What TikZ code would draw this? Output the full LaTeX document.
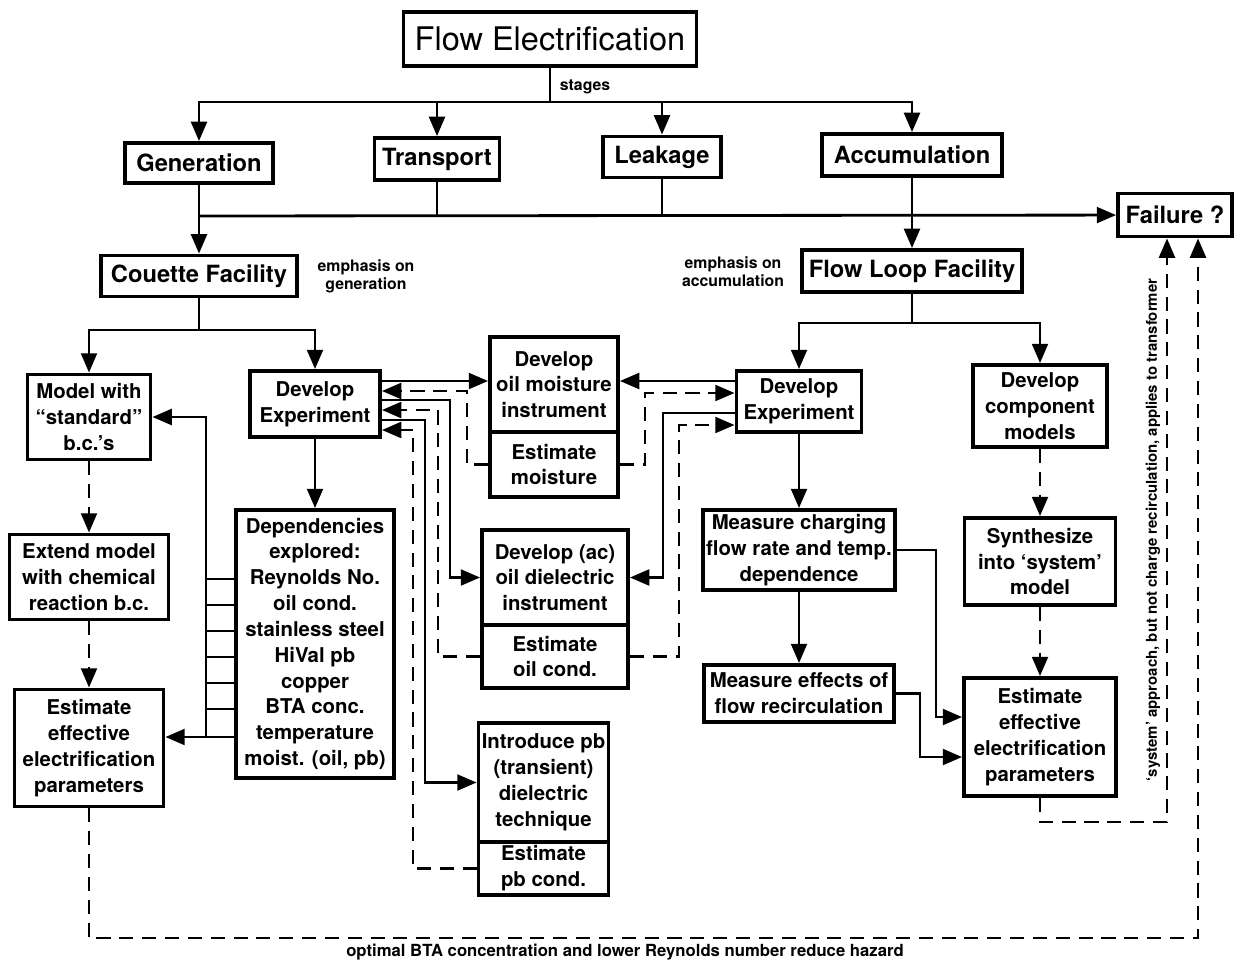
\documentclass[tikz,border=0pt]{standalone}
\usepackage{fontspec}
\setmainfont{TeX Gyre Heros}
\usetikzlibrary{arrows.meta}
\newcommand{\BoxFont}{\fontsize{11.6}{14.7}\selectfont\bfseries}
\newcommand{\StageFont}{\fontsize{13.5}{16}\selectfont\bfseries}
\newcommand{\NoteFont}{\fontsize{9}{10.3}\selectfont\bfseries}

\begin{document}
\begin{tikzpicture}[x=0.02cm, y=-0.02cm,
  box/.style={draw, line width=2.2pt, align=center, inner sep=1pt, font=\BoxFont},
  stagebox/.style={draw, line width=2.2pt, inner sep=2pt, font=\StageFont},
  note/.style={align=center, font=\NoteFont},
  line/.style={line width=1.6pt},
  arr/.style={line width=1.6pt, -{Triangle[length=11pt,width=9pt]}},
  darr/.style={arr, dash pattern=on 8pt off 5pt}]
\useasboundingbox (0,0) rectangle (1236,960);

% top levels
\node[stagebox, minimum width=5.86cm, minimum height=1.08cm,
      font=\fontsize{18.5}{20}\selectfont] (flow) at (550,39) {Flow Electrification};
\node[note] (stg) at (585,87) {stages};
\node[stagebox, minimum width=2.96cm, minimum height=0.80cm] (gen) at (199,163) {Generation};
\node[stagebox, minimum width=2.50cm, minimum height=0.84cm] (trans) at (437,159) {Transport};
\node[stagebox, minimum width=2.36cm, minimum height=0.82cm] (leak) at (662,157) {Leakage};
\node[stagebox, minimum width=3.60cm, minimum height=0.84cm] (accum) at (912,155) {Accumulation};
\node[stagebox, minimum width=2.28cm, minimum height=0.86cm] (fail) at (1175,215) {Failure ?};
\node[stagebox, minimum width=3.92cm, minimum height=0.82cm] (couette) at (199,276) {Couette Facility};
\node[stagebox, minimum width=4.40cm, minimum height=0.84cm] (floop) at (912,271) {Flow Loop Facility};
\node[note] (emgen) at (366,276) {emphasis on\\generation};
\node[note] (emacc) at (733,272) {emphasis on\\accumulation};

% couette branch
\node[box, minimum width=2.46cm, minimum height=1.70cm] (model) at (89,417) {Model with\\``standard''\\b.c.'s};
\node[box, minimum width=3.18cm, minimum height=1.70cm] (extend) at (89,577) {Extend model\\with chemical\\reaction b.c.};
\node[box, minimum width=2.98cm, minimum height=2.34cm] (estL) at (89,748) {Estimate\\effective\\electrification\\parameters};
\node[box, minimum width=2.60cm, minimum height=1.32cm] (devL) at (315,404) {Develop\\Experiment};
\node[box, minimum width=3.16cm, minimum height=5.36cm] (dep) at (315,644)
     {Dependencies\\explored:\\Reynolds No.\\oil cond.\\stainless steel\\HiVal pb\\copper\\BTA conc.\\temperature\\moist. (oil, pb)};

% instruments
\node[box, minimum width=2.56cm, minimum height=1.90cm] (moistdev) at (554,384.5) {Develop\\oil moisture\\instrument};
\node[box, minimum width=2.56cm, minimum height=1.30cm] (moistest) at (554,464.5) {Estimate\\moisture};
\node[box, minimum width=2.92cm, minimum height=1.90cm] (dieldev) at (555,577.5) {Develop (ac)\\oil dielectric\\instrument};
\node[box, minimum width=2.92cm, minimum height=1.26cm] (dielest) at (555,656.5) {Estimate\\oil cond.};
\node[box, minimum width=2.60cm, minimum height=2.38cm] (pbdev) at (543.5,782.5) {Introduce pb\\(transient)\\dielectric\\technique};
\node[box, minimum width=2.60cm, minimum height=1.06cm] (pbest) at (543.5,868.5) {Estimate\\pb cond.};

% flow loop branch
\node[box, minimum width=2.50cm, minimum height=1.22cm] (devR) at (799,401.5) {Develop\\Experiment};
\node[box, minimum width=3.84cm, minimum height=1.60cm] (charge) at (799,550) {Measure charging\\flow rate and temp.\\dependence};
\node[box, minimum width=3.80cm, minimum height=1.14cm] (recirc) at (799,693.5) {Measure effects of\\flow recirculation};
\node[box, minimum width=2.68cm, minimum height=1.64cm] (comp) at (1040,406) {Develop\\component\\models};
\node[box, minimum width=3.02cm, minimum height=1.74cm] (synth) at (1040,561.5) {Synthesize\\into `system'\\model};
\node[box, minimum width=3.04cm, minimum height=2.36cm] (estR) at (1040,737) {Estimate\\effective\\electrification\\parameters};

\node[note, rotate=90, font=\fontsize{8.5}{10}\selectfont\bfseries] (sysnote) at (1153,530)
     {`system' approach, but not charge recirculation, applies to transformer};
\node[note, font=\fontsize{9.5}{11}\selectfont\bfseries] (hazard) at (625,952)
     {optimal BTA concentration and lower Reynolds number reduce hazard};

% stages
\coordinate (sbus) at (550,102);
\draw[line] (flow) -- (sbus);
\draw[arr] (sbus) -| (gen);
\draw[arr] (sbus) -| (trans);
\draw[arr] (sbus) -| (leak);
\draw[arr] (sbus) -| (accum);
\coordinate (fbus) at (199,216);
\draw[arr] (fbus) -- (fail);
\draw[line] (trans) -- (trans |- fbus);
\draw[line] (leak) -- (leak |- fbus);
\draw[arr] (gen) -- (couette);
\draw[arr] (accum) -- (floop);

% couette facility
\coordinate (cbus) at (199,330);
\draw[line] (couette) -- (cbus);
\draw[arr] (cbus) -| (model);
\draw[arr] (cbus) -| (devL);
\draw[darr] (model) -- (extend);
\draw[darr] (extend) -- (estL);
\draw[arr] (devL) -- (dep);
\coordinate (fb1) at (206,417);
\coordinate (fb2) at (206,737);
\draw[arr] (fb2 -| dep.west) -- (fb2 -| estL.east);
\draw[arr] (fb2) -- (fb1) -- (fb1 -| model.east);
\foreach \ty in {579,605,631,657,683,709} {
  \coordinate (tk) at (206,\ty);
  \draw[line] (tk) -- (tk -| dep.west);
}

% left experiment <-> instruments
\coordinate (ca) at (467,381);
\coordinate (cb) at (467,391);
\coordinate (cc) at (450,400);
\coordinate (cd) at (438,410);
\coordinate (ce) at (425,420);
\coordinate (cf) at (413,430);
\draw[arr] (ca -| devL.east) -- (ca -| moistdev.west);
\draw[darr] (moistest.west) -| (cb) -- (cb -| devL.east);
\draw[arr] (cc -| devL.east) -- (cc) |- (dieldev.west);
\draw[darr] (dielest.west) -| (cd) -- (cd -| devL.east);
\draw[arr] (ce -| devL.east) -- (ce) |- (pbdev.west);
\draw[darr] (pbest.west) -| (cf) -- (cf -| devL.east);

% right experiment <-> instruments
\coordinate (ra) at (700,381);
\coordinate (rb) at (645,393);
\coordinate (rc) at (663,413);
\coordinate (rd) at (679,425);
\draw[arr] (ra -| devR.west) -- (ra -| moistdev.east);
\draw[darr] (moistest.east) -| (rb) -- (rb -| devR.west);
\draw[arr] (rc -| devR.west) -- (rc) |- (dieldev.east);
\draw[darr] (dielest.east) -| (rd) -- (rd -| devR.west);

% flow loop facility
\coordinate (lbus) at (912,323);
\draw[line] (floop) -- (lbus);
\draw[arr] (lbus) -| (devR);
\draw[arr] (lbus) -| (comp);
\draw[arr] (devR) -- (charge);
\draw[arr] (charge) -- (recirc);
\coordinate (q1) at (936,717);
\coordinate (q2) at (920,757);
\draw[arr] (charge.east) -| (q1) -- (q1 -| estR.west);
\draw[arr] (recirc.east) -| (q2) -- (q2 -| estR.west);
\draw[darr] (comp) -- (synth);
\draw[darr] (synth) -- (estR);

% back to failure
\coordinate (sy) at (1167,822);
\coordinate (hz) at (1198,938);
\draw[darr] (estR) |- (sy) -- (sy |- fail.south);
\draw[darr] (estL) |- (hz) -- (hz |- fail.south);
\end{tikzpicture}
\end{document}
